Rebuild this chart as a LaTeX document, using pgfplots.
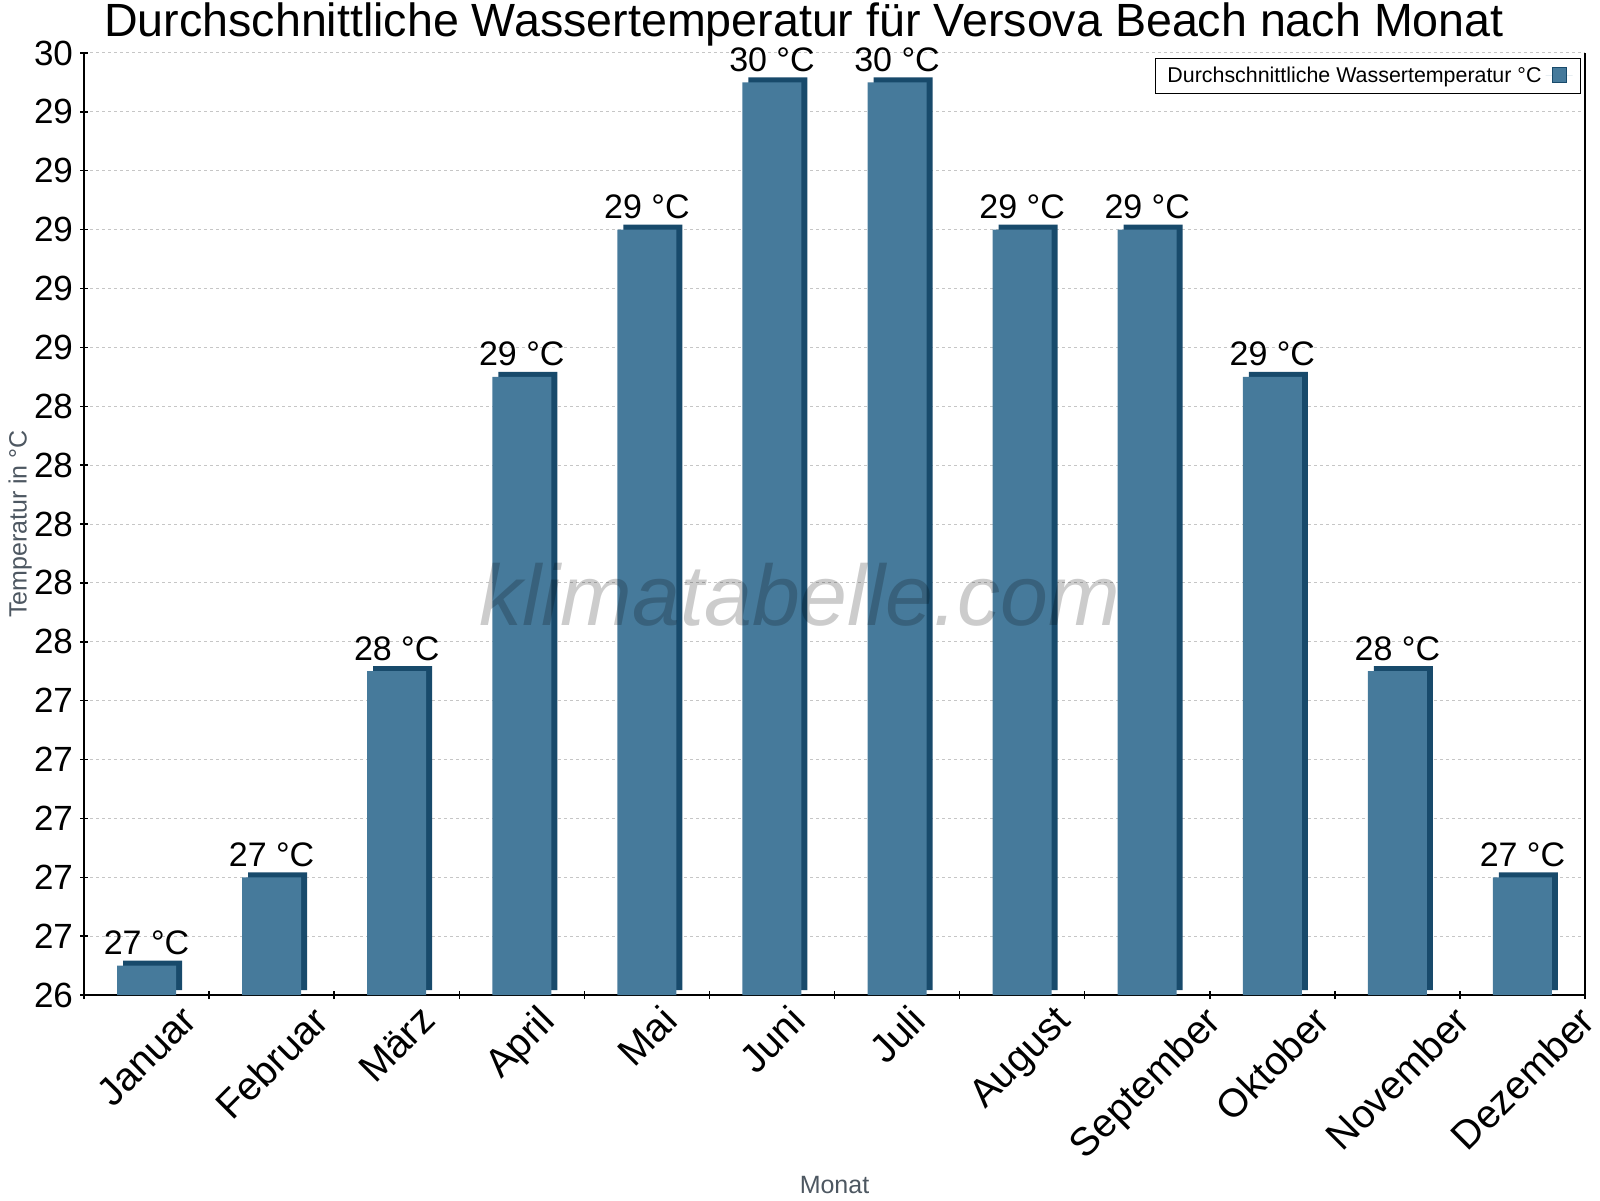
\documentclass[border=0pt]{standalone}
\usepackage{fontspec}
\setmainfont{Liberation Sans}
\usepackage{pgfplots}
\usepackage{pgfplotstable}
\pgfplotsset{compat=1.18}

\definecolor{barfront}{RGB}{70,122,155}
\definecolor{barside}{RGB}{24,74,107}
\definecolor{labgray}{RGB}{77,87,97}

% month index, water temperature, rounded label
\pgfplotstableread{
x  temp  lab
0  26.5  27
1  26.8  27
2  27.5  28
3  28.5  29
4  29.0  29
5  29.5  30
6  29.5  30
7  29.0  29
8  29.0  29
9  28.5  29
10 27.5  28
11 26.8  27
}\wtemp

\newcommand{\rl}[1]{\rotatebox{45}{#1}}

\begin{document}
\begin{tikzpicture}
\path[use as bounding box] (0,0) rectangle (800pt,600pt);
\begin{axis}[
    at={(42pt,102.5pt)}, anchor=south west,
    scale only axis, width=750.5pt, height=471pt,
    ymin=26.4, ymax=29.6, xmin=-0.5, xmax=11.5,
    axis x line*=bottom, axis y line*=box,
    axis line style={black, line width=0.75pt, -},
    ytick={26.4,26.6,26.8,27.0,27.2,27.4,27.6,27.8,28.0,28.2,28.4,28.6,28.8,29.0,29.2,29.4,29.6},
    yticklabels={26,27,27,27,27,27,28,28,28,28,28,29,29,29,29,29,30},
    ytick pos=left,
    xtick={-0.5,0.5,...,11.5},
    x tick label as interval,
    xticklabels={\rl{Januar},\rl{Februar},\rl{März},\rl{April},\rl{Mai},\rl{Juni},
        \rl{Juli},\rl{August},\rl{September},\rl{Oktober},\rl{November},\rl{Dezember}},
    xticklabel style={anchor=north, inner sep=2pt, font=\fontsize{19.8}{23}\selectfont},
    yticklabel style={font=\fontsize{17.5}{21}\selectfont},
    tick align=center, major tick length=4pt,
    tick style={black, line width=0.75pt},
    ymajorgrids,
    major grid style={gray!45, line width=0.5pt, dash pattern=on 1.5pt off 1.5pt},
    ylabel={Temperatur in °C},
    ylabel style={at={(axis description cs:-0.0426,0.5)}, anchor=center,
        font=\fontsize{12.5}{15}\selectfont, text=labgray},
    xlabel={Monat},
    xlabel style={at={(rel axis cs:0.5,0)}, anchor=base, yshift=-99pt,
        font=\fontsize{12.5}{15}\selectfont, text=labgray},
    legend plot pos=right,
    legend style={at={(rel axis cs:1,1)}, anchor=north east, xshift=-2pt, yshift=-2.5pt,
        draw=black, line width=0.5pt, font=\fontsize{10.7}{12.8}\selectfont,
        inner xsep=4pt, inner ysep=2pt},
    legend image code/.code={
        \path (0pt,0pt) -- (13.5pt,0pt);
        \draw[fill=barfront, draw=barside, line width=0.5pt] (3.5pt,-3.5pt) rectangle (10.5pt,4pt);},
]
% darker back face, offset up and right for the 3D look
\addplot[ybar, bar shift=0pt, bar width=29.5pt, fill=barside, draw=none,
    xshift=3pt, yshift=2.5pt, forget plot]
    table[x=x, y=temp] {\wtemp};
\addplot[ybar, bar shift=0pt, bar width=29.5pt, fill=barfront, draw=none,
    point meta=explicit symbolic,
    nodes near coords={\pgfplotspointmeta~°C},
    every node near coord/.append style={anchor=base, yshift=5.5pt, text=black,
        font=\fontsize{17}{20}\selectfont}]
    table[x=x, y=temp, meta=lab] {\wtemp};
\addlegendentry{Durchschnittliche Wassertemperatur °C}
\end{axis}
\node[anchor=base, font=\fontsize{23.3}{28}\selectfont] at (402pt,581.5pt)
    {Durchschnittliche Wassertemperatur für Versova Beach nach Monat};
\node[anchor=base, font=\fontsize{43}{50}\selectfont\itshape, text=black, opacity=0.2]
    at (400pt,287pt) {klimatabelle.com};
\end{tikzpicture}
\end{document}
